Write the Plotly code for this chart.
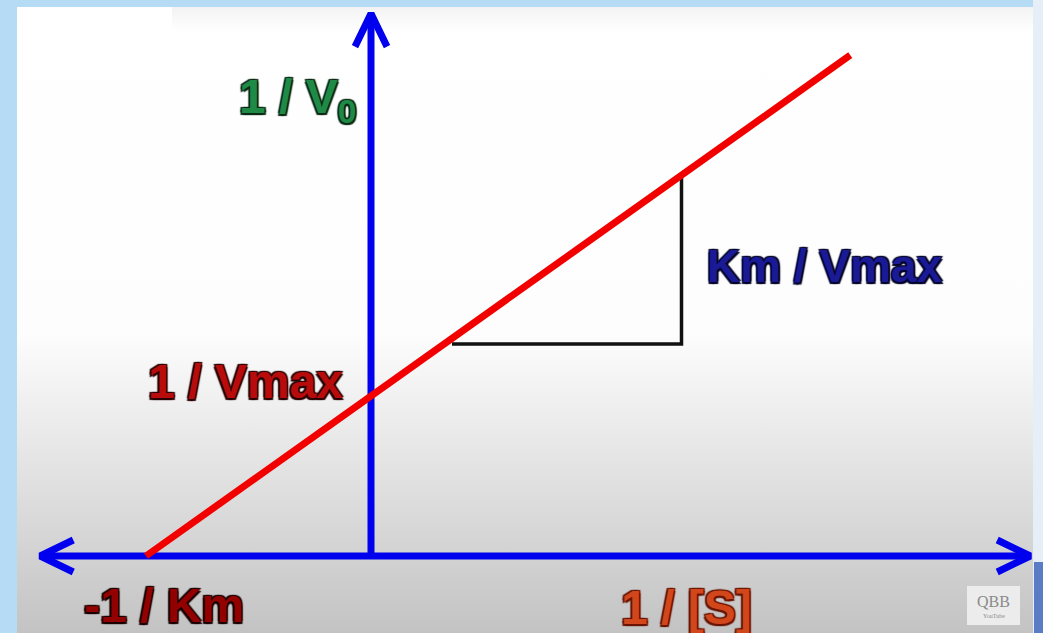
import base64
import plotly.graph_objects as go

# Lineweaver-Burk (double reciprocal) plot, Km = 1 and Vmax = 1 in arbitrary units
inv_S = [-1.0, 2.13]      # 1/[S] at the ends of the drawn line
inv_V = [0.0, 3.13]       # 1/V0 at the ends of the drawn line

# slope triangle under the line (rise = Km/Vmax per unit run)
tri_x = [0.36, 1.38, 1.38]
tri_y = [1.325, 1.325, 2.38]

# extent of the two drawn axes
x_axis_ends = [-1.47, 2.93]
y_axis_ends = [0.0, 3.39]

# label texts
lbl_v0 = "1 / V<sub>0</sub>"
lbl_vmax = "1 / Vmax"
lbl_slope = "Km / Vmax"
lbl_km = "-1 / Km"
lbl_s = "1 / [S]"

W, H = 1043, 633
X_RANGE = [-1.6489, 2.9867]
Y_RANGE = [-0.48125, 3.475]
px_x = W / (X_RANGE[1] - X_RANGE[0])
px_y = H / (Y_RANGE[1] - Y_RANGE[0])


def dx(p):
    return X_RANGE[0] + p / px_x


def dy(p):
    return Y_RANGE[1] - p / px_y


AXIS_BLUE = "#0000ee"
fig = go.Figure()

# axes
fig.add_trace(go.Scatter(x=x_axis_ends, y=[0, 0], mode="lines",
                         line=dict(color=AXIS_BLUE, width=7), hoverinfo="skip"))
fig.add_trace(go.Scatter(x=[0, 0], y=y_axis_ends, mode="lines",
                         line=dict(color=AXIS_BLUE, width=7), hoverinfo="skip"))

# open chevron heads at the axis ends
head_len, head_half = 33, 16
heads = [
    ([x_axis_ends[0] + head_len / px_x, x_axis_ends[0], x_axis_ends[0] + head_len / px_x],
     [head_half / px_y, 0, -head_half / px_y]),
    ([x_axis_ends[1] - head_len / px_x, x_axis_ends[1], x_axis_ends[1] - head_len / px_x],
     [head_half / px_y, 0, -head_half / px_y]),
    ([-head_half / px_x, 0, head_half / px_x],
     [y_axis_ends[1] - head_len / px_y, y_axis_ends[1], y_axis_ends[1] - head_len / px_y]),
]
for hx, hy in heads:
    fig.add_trace(go.Scatter(x=hx, y=hy, mode="lines",
                             line=dict(color=AXIS_BLUE, width=7), hoverinfo="skip"))

# slope triangle
fig.add_trace(go.Scatter(x=tri_x, y=tri_y, mode="lines",
                         line=dict(color="#111111", width=3.5), hoverinfo="skip"))

# the reciprocal line
fig.add_trace(go.Scatter(x=inv_S, y=inv_V, mode="lines",
                         line=dict(color="#f20000", width=7), hoverinfo="skip"))


def outline(c):
    return (f"-1.5px -1.5px 1px {c}, 1.5px -1.5px 1px {c}, "
            f"-1.5px 1.5px 1px {c}, 1.5px 1.5px 1px {c}, 0 0 2px {c}")


def label(text, x, y, anchor, fill, edge, size=48):
    fig.add_annotation(
        x=x, y=y, xref="x", yref="y", text=text, showarrow=False,
        xanchor=anchor, yanchor="middle",
        font=dict(family="Liberation Sans, Arial, sans-serif", size=size,
                  color=fill, weight="bold", shadow=outline(edge)))


label(lbl_v0, dx(358), dy(100), "right", "#1e8a45", "#0b2a14")
label(lbl_vmax, dx(345), dy(381), "right", "#b80c0c", "#2a0000")
label(lbl_slope, dx(705), dy(266), "left", "#1a1a96", "#05052a", size=46)
label(lbl_km, dx(82), dy(605), "left", "#920000", "#1a0000")
label(lbl_s, dx(619), dy(607), "left", "#d2461c", "#6a1400")

# slide background: white fading to grey towards the bottom
svg = (
    '<svg xmlns="http://www.w3.org/2000/svg" width="1016" height="626" '
    'viewBox="0 0 1016 626" preserveAspectRatio="none">'
    '<defs><linearGradient id="g" x1="0" y1="0" x2="0" y2="1">'
    '<stop offset="0" stop-color="#ffffff"/>'
    '<stop offset="0.52" stop-color="#fdfdfd"/>'
    '<stop offset="1" stop-color="#c3c3c3"/></linearGradient>'
    '<linearGradient id="t" x1="0" y1="0" x2="0" y2="1">'
    '<stop offset="0" stop-color="#f3f3f3"/>'
    '<stop offset="1" stop-color="#ffffff"/></linearGradient></defs>'
    '<rect width="1016" height="626" fill="url(#g)"/>'
    '<rect x="155" width="861" height="24" fill="url(#t)"/>'
    '</svg>'
)
src = "data:image/svg+xml;base64," + base64.b64encode(svg.encode()).decode()

fig.add_layout_image(dict(
    source=src, xref="paper", yref="paper",
    x=17 / W, y=1 - 7 / H, sizex=1016 / W, sizey=626 / H,
    xanchor="left", yanchor="top", sizing="stretch", layer="below"))

# window strip on the right and corner badge
fig.add_shape(type="rect", xref="paper", yref="paper",
              x0=1033 / W, x1=1, y0=0, y1=1, fillcolor="#e6eef8",
              line_width=0, layer="below")
fig.add_shape(type="rect", xref="paper", yref="paper",
              x0=1034 / W, x1=1, y0=0, y1=1 - 562 / H, fillcolor="#5a7cc4",
              line_width=0, layer="below")

# channel watermark
fig.add_shape(type="rect", xref="paper", yref="paper",
              x0=967 / W, x1=1020 / W, y0=1 - 625 / H, y1=1 - 586 / H,
              fillcolor="#ececec", line_width=0)
fig.add_annotation(x=993.5 / W, y=1 - 601 / H, xref="paper", yref="paper",
                   xanchor="center", yanchor="middle",
                   text="QBB", showarrow=False,
                   font=dict(family="Liberation Serif, serif", size=16, color="#8a8a8a"))
fig.add_annotation(x=993.5 / W, y=1 - 616 / H, xref="paper", yref="paper",
                   xanchor="center", yanchor="middle",
                   text="YouTube", showarrow=False,
                   font=dict(family="Liberation Serif, serif", size=6, color="#8a8a8a"))

fig.update_layout(
    width=W, height=H, margin=dict(l=0, r=0, t=0, b=0),
    paper_bgcolor="#b5dbf5", plot_bgcolor="rgba(0,0,0,0)",
    showlegend=False,
    xaxis=dict(range=X_RANGE, visible=False, fixedrange=True),
    yaxis=dict(range=Y_RANGE, visible=False, fixedrange=True),
)

fig.write_html("out.html")
